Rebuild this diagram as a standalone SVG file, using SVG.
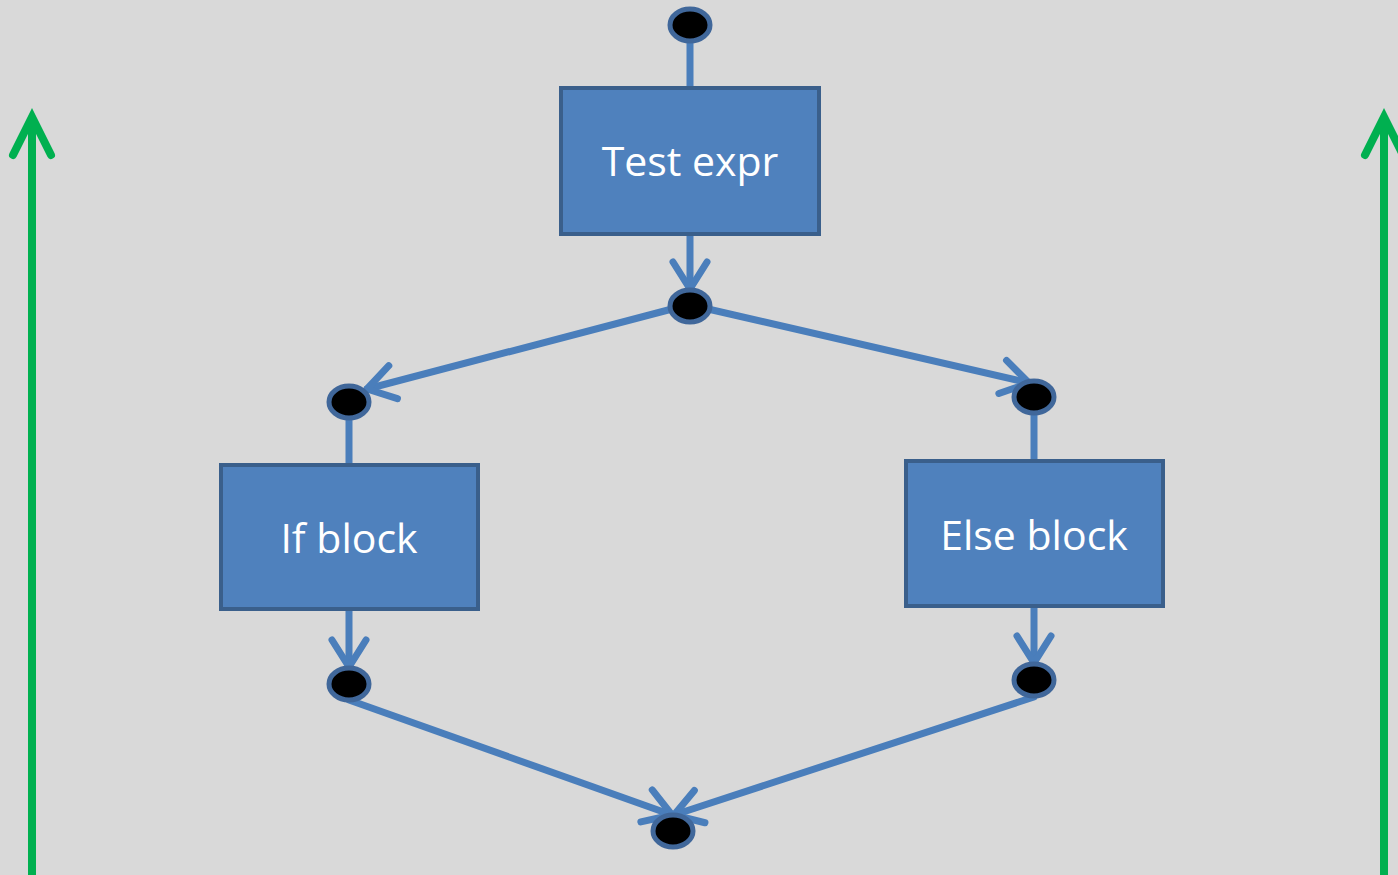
<svg xmlns="http://www.w3.org/2000/svg" width="1398" height="875" viewBox="0 0 1398 875">
  <style>
    .box { fill: #4f81bd; stroke: #3a5f8b; stroke-width: 4; }
    .dot { fill: #000; stroke: #40679a; stroke-width: 5; }
    .flow { fill: none; stroke: #4a7ebb; stroke-width: 7; stroke-linecap: round; }
    .loop { fill: none; stroke: #00b050; stroke-width: 8; }
    .label { font-family: "Open Sans", "Noto Sans", sans-serif; font-size: 41px; fill: #fff; text-anchor: middle; }
  </style>
  <defs>
    <marker id="chev" markerUnits="userSpaceOnUse" viewBox="-34 -24 40 48" markerWidth="40" markerHeight="48" refX="0" refY="0" orient="auto" overflow="visible">
      <path d="M-27,-17 L0,0 L-27,17" fill="none" stroke="#4a7ebb" stroke-width="7" stroke-linecap="round" stroke-linejoin="round"/>
    </marker>
    <marker id="chevGreen" markerUnits="userSpaceOnUse" viewBox="-50 -28 56 56" markerWidth="56" markerHeight="56" refX="0" refY="0" orient="auto" overflow="visible">
      <path d="M-38,-19 L0,0 L-38,19" fill="none" stroke="#00b050" stroke-width="8" stroke-linecap="round" stroke-linejoin="miter"/>
    </marker>
  </defs>

  <rect width="1398" height="875" fill="#d9d9d9"/>

  <g id="connectors">
    <line class="flow" x1="690" y1="41" x2="690" y2="88"/>
    <line class="flow" x1="690" y1="236" x2="690" y2="289" marker-end="url(#chev)"/>
    <line class="flow" x1="672" y1="309" x2="367" y2="389" marker-end="url(#chev)"/>
    <line class="flow" x1="708" y1="309" x2="1029" y2="383" marker-end="url(#chev)"/>
    <line class="flow" x1="349" y1="418" x2="349" y2="465"/>
    <line class="flow" x1="1034" y1="413" x2="1034" y2="461"/>
    <line class="flow" x1="349" y1="611" x2="349" y2="667" marker-end="url(#chev)"/>
    <line class="flow" x1="1034" y1="608" x2="1034" y2="663" marker-end="url(#chev)"/>
    <line class="flow" x1="349" y1="700" x2="672" y2="815" marker-end="url(#chev)"/>
    <line class="flow" x1="1034" y1="697" x2="674" y2="815" marker-end="url(#chev)"/>
    <line class="loop" x1="32" y1="875" x2="32" y2="117" marker-end="url(#chevGreen)"/>
    <line class="loop" x1="1384" y1="875" x2="1384" y2="117" marker-end="url(#chevGreen)"/>
  </g>

  <g id="start"><ellipse class="dot" cx="690" cy="25" rx="20" ry="16"/></g>

  <g id="test-expr">
    <rect class="box" x="561" y="88" width="258" height="146"/>
    <text class="label" x="690" y="176">Test expr</text>
  </g>

  <g id="branch"><ellipse class="dot" cx="690" cy="306" rx="20" ry="16"/></g>
  <g id="if-entry"><ellipse class="dot" cx="349" cy="402" rx="20" ry="16"/></g>
  <g id="else-entry"><ellipse class="dot" cx="1034" cy="397" rx="20" ry="16"/></g>

  <g id="if-block">
    <rect class="box" x="221" y="465" width="257" height="144"/>
    <text class="label" x="349" y="553">If block</text>
  </g>

  <g id="else-block">
    <rect class="box" x="906" y="461" width="257" height="145"/>
    <text class="label" x="1034" y="550">Else block</text>
  </g>

  <g id="if-exit"><ellipse class="dot" cx="349" cy="684" rx="20" ry="16"/></g>
  <g id="else-exit"><ellipse class="dot" cx="1034" cy="680" rx="20" ry="16"/></g>
  <g id="merge"><ellipse class="dot" cx="673" cy="831" rx="20" ry="16"/></g>
</svg>
